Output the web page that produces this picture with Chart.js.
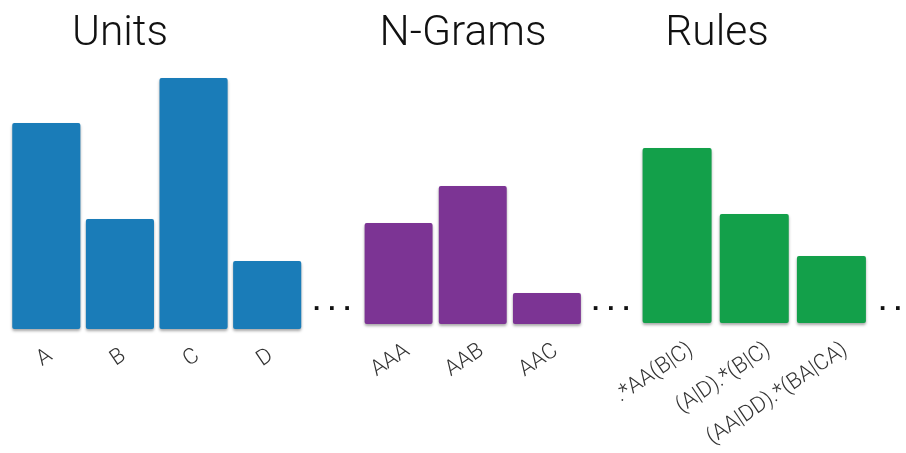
<!DOCTYPE html>
<html>
<head>
<meta charset="utf-8">
<script src="https://cdn.jsdelivr.net/npm/chart.js@4/dist/chart.umd.min.js"></script>
<style>
  html, body { margin: 0; padding: 0; background: #fff; }
  body { width: 906px; height: 453px; position: relative; overflow: hidden; }
  .box { position: absolute; top: 0; height: 453px; }
  .dots { position: absolute; font: bold 26px 'Liberation Sans', Arial, sans-serif; color: #111; letter-spacing: 8px; }
</style>
</head>
<body>
<div class="box" id="b1" style="left:-64px;width:368px"><canvas id="units"></canvas></div>
<div class="box" id="b2" style="left:342px;width:242px"><canvas id="ngrams"></canvas></div>
<div class="box" id="b3" style="left:564px;width:306px"><canvas id="rules"></canvas></div>
<div class="dots" style="left:313px;top:286px">...</div>
<div class="dots" style="left:592px;top:286px">...</div>
<div class="dots" style="left:879px;top:286px">...</div>
<script>
'use strict';
// values (bar heights, arbitrary units)
const unitLabels = ['A', 'B', 'C', 'D'];
const unitValues = [206, 110, 251, 68];
const ngramLabels = ['AAA', 'AAB', 'AAC'];
const ngramValues = [101, 138, 31];
const ruleLabels = ['.*AA(B|C)', '(A|D).*(B|C)', '(AA|DD).*(BA|CA)'];
const ruleValues = [175, 109, 67];
const yMax = 260;

const shadow = {
  id: 'shadow',
  beforeDatasetsDraw(chart) {
    const c = chart.ctx;
    c.save();
    c.shadowColor = 'rgba(0,0,0,0.35)';
    c.shadowBlur = 3;
    c.shadowOffsetY = 2;
  },
  afterDatasetsDraw(chart) {
    chart.ctx.restore();
  },
};

function makeChart(id, title, labels, values, color, opt) {
  return new Chart(document.getElementById(id), {
    type: 'bar',
    data: {
      labels: labels,
      datasets: [{
        data: values,
        backgroundColor: color,
        borderRadius: 2,
        borderSkipped: false,
        barPercentage: opt.bar,
        categoryPercentage: 1,
        clip: false,
      }],
    },
    options: {
      responsive: true,
      maintainAspectRatio: false,
      animation: false,
      layout: { padding: 0 },
      plugins: {
        legend: { display: false },
        tooltip: { enabled: false },
        title: {
          display: true,
          text: title,
          color: '#111',
          font: { family: "Roboto, 'Liberation Sans', sans-serif", size: 42.5, weight: 300 },
          padding: { top: 9, bottom: opt.titleGap },
        },
      },
      scales: {
        x: {
          grid: { display: false },
          border: { display: false },
          ticks: {
            autoSkip: false,
            minRotation: 34,
            maxRotation: 34,
            padding: 6,
            labelOffset: opt.shift,
            color: '#333',
            font: { family: "Roboto, 'Liberation Sans', sans-serif", size: 22, weight: 300 },
          },
          afterFit: s => {
            s.height = opt.axisH;
            s.paddingLeft = 0;
            s.paddingRight = 0;
          },
        },
        y: {
          min: 0,
          max: yMax,
          grid: { display: false },
          border: { display: false },
          ticks: { display: false },
          afterFit: s => { s.width = opt.yW; },
        },
      },
    },
    plugins: [shadow],
  });
}

makeChart('units', 'Units', unitLabels, unitValues, '#1a7cb8',
  { bar: 0.925, titleGap: 9.0, axisH: 124, yW: 73.5, shift: 4 });
makeChart('ngrams', 'N-Grams', ngramLabels, ngramValues, '#7c3494',
  { bar: 0.916, titleGap: 4.0, axisH: 129, yW: 19.5, shift: 9 });
makeChart('rules', 'Rules', ruleLabels, ruleValues, '#13a04a',
  { bar: 0.894, titleGap: 3.0, axisH: 130, yW: 74.5, shift: 14 });
</script>
</body>
</html>
